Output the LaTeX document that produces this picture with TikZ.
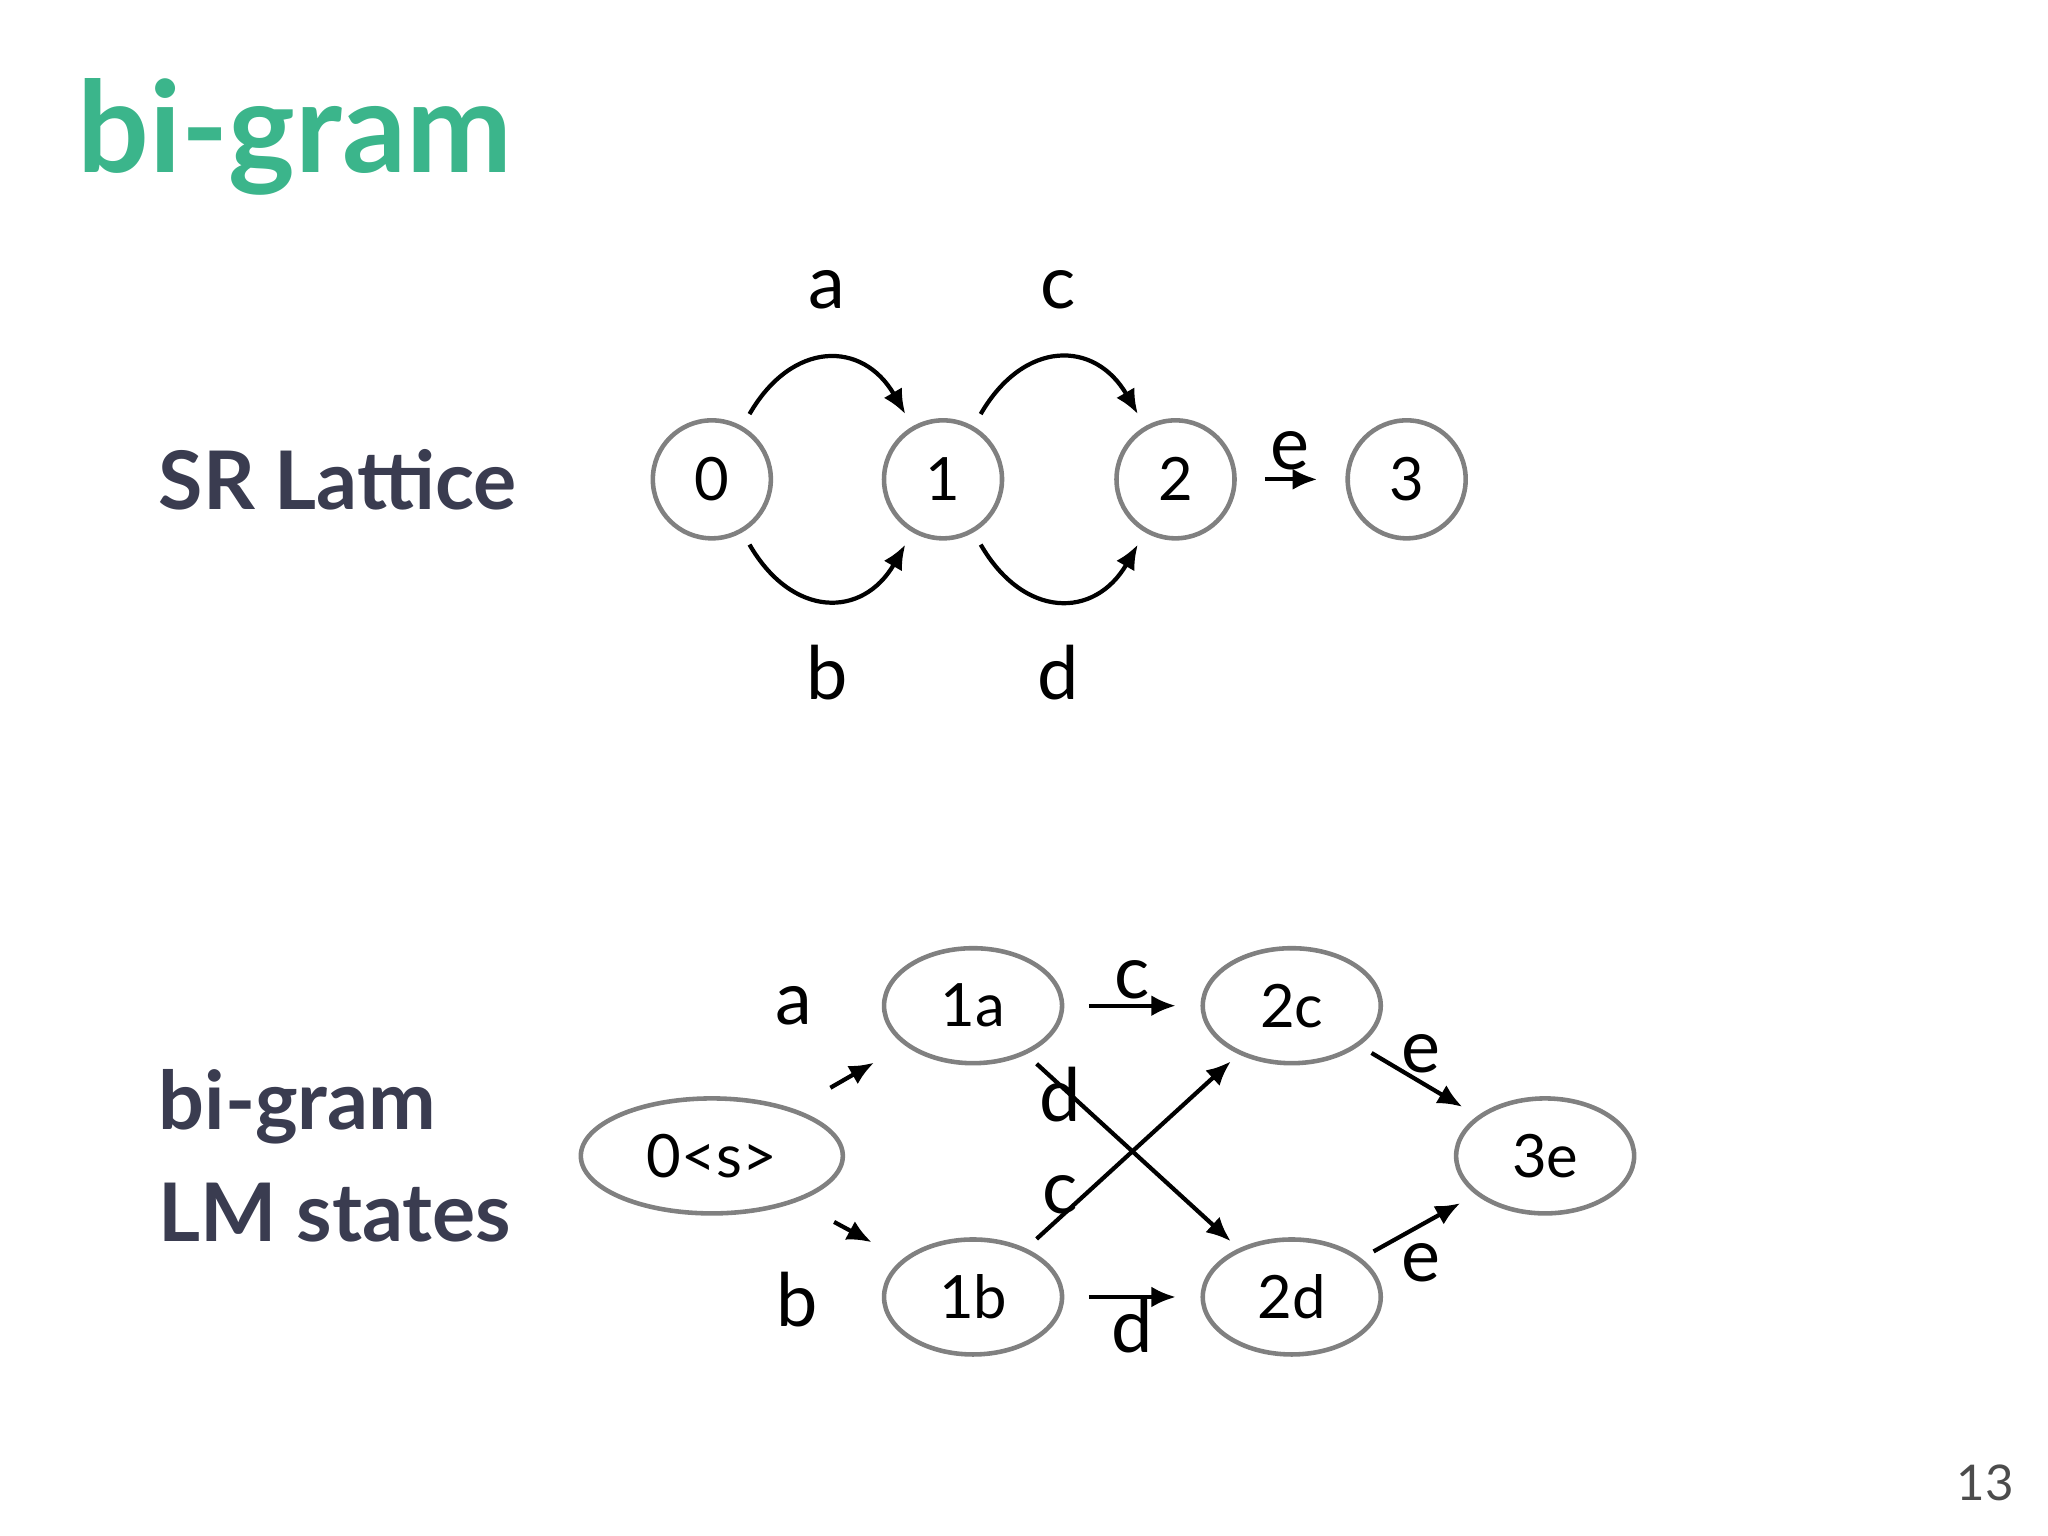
\documentclass[tikz,border=0pt]{standalone}
\usepackage{fontspec}
\setmainfont{Lato}
\usetikzlibrary{shapes.geometric,arrows.meta}
\definecolor{titlegreen}{HTML}{3BB58B}
\definecolor{headdark}{HTML}{3A3C50}
\begin{document}
\begin{tikzpicture}[x=0.013061cm,y=-0.013061cm,
  st/.style={circle,draw=black!50,line width=1.3pt,minimum size=1.18cm,inner sep=0pt,font=\fontsize{17}{17}\selectfont},
  el/.style={ellipse,draw=black!50,line width=1.3pt,minimum width=1.78cm,minimum height=1.15cm,inner sep=0pt,font=\fontsize{17}{17}\selectfont},
  arr/.style={-{Latex[length=7pt,width=6pt]},line width=1.2pt},
  lab/.style={font=\fontsize{21}{21}\selectfont},
  head/.style={font=\fontsize{23}{28}\selectfont\bfseries,text=headdark,align=left,anchor=west}]
\useasboundingbox (0,0) rectangle (1568,1176);
\node[anchor=west,text=titlegreen,font=\fontsize{36}{36}\selectfont\bfseries] (title) at (50,105) {bi-gram};
\node[head] (h1) at (112,367) {SR Lattice};
\node[head] (h2) at (112,885) {bi-gram\\[4pt]LM states};
\node[text=black!70,font=\fontsize{14}{14}\selectfont] (pg) at (1520,1135) {13};
% lattice
\node[st] (n0) at (545,367) {0};
\node[st] (n1) at (722,367) {1};
\node[st] (n2) at (900,367) {2};
\node[st] (n3) at (1077,367) {3};
\draw[arr,shorten <=4pt,shorten >=4pt] (n0) to[out=60,in=120,looseness=1.5] (n1);
\draw[arr,shorten <=4pt,shorten >=4pt] (n1) to[out=60,in=120,looseness=1.5] (n2);
\draw[arr,shorten <=4pt,shorten >=4pt] (n0) to[out=-60,in=-120,looseness=1.5] (n1);
\draw[arr,shorten <=4pt,shorten >=4pt] (n1) to[out=-60,in=-120,looseness=1.5] (n2);
\draw[arr,shorten <=8pt,shorten >=8pt] (n2) -- (n3);
\node[lab] (la) at (633,222) {a};
\node[lab] (lc) at (810,222) {c};
\node[lab] (lb) at (633,515) {b};
\node[lab] (ld) at (810,515) {d};
\node[lab] (le) at (988,345) {e};
% LM states
\node[el,minimum width=2.62cm] (s) at (545,885) {0<s>};
\node[el] (a1) at (745,770) {1a};
\node[el] (b1) at (745,993) {1b};
\node[el] (c2) at (989,770) {2c};
\node[el] (d2) at (989,993) {2d};
\node[el] (e3) at (1183,885) {3e};
\draw[arr,shorten <=12pt,shorten >=10pt] (s) -- (a1);
\draw[arr,shorten <=12pt,shorten >=10pt] (s) -- (b1);
\draw[arr,shorten <=7pt,shorten >=7pt] (a1) -- (c2);
\draw[arr,shorten <=7pt,shorten >=7pt] (b1) -- (d2);
\draw[arr,shorten <=4pt,shorten >=3pt] (a1) -- (d2);
\draw[arr,shorten <=4pt,shorten >=3pt] (b1) -- (c2);
\draw[arr,shorten <=4pt,shorten >=5pt] (c2) -- (e3);
\draw[arr,shorten <=4pt,shorten >=5pt] (d2) -- (e3);
\node[lab] (ma) at (608,770) {a};
\node[lab] (mb) at (610,995) {b};
\node[lab] (mc1) at (867,750) {c};
\node[lab] (md1) at (812,838) {d};
\node[lab] (mc2) at (812,915) {c};
\node[lab] (md2) at (867,1015) {d};
\node[lab] (me1) at (1088,807) {e};
\node[lab] (me2) at (1088,967) {e};
\end{tikzpicture}
\end{document}
